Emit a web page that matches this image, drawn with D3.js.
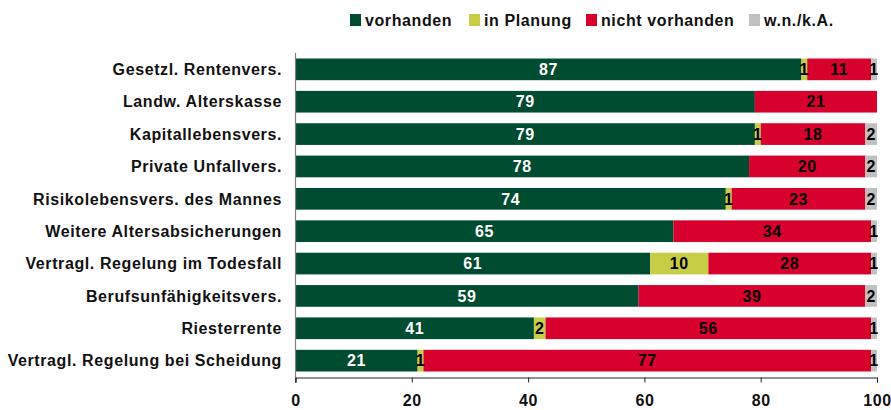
<!DOCTYPE html>
<html>
<head>
<meta charset="utf-8">
<script src="https://cdn.jsdelivr.net/npm/d3@7"></script>
<style>
  body { margin: 0; background: #fff; }
  svg text { font-family: "Liberation Sans", Arial, sans-serif; font-weight: bold; letter-spacing: 0.6px; }
</style>
</head>
<body>
<svg id="chart" width="891" height="410"></svg>
<script>
// categories top to bottom
const categories = [
  'Gesetzl. Rentenvers.', 'Landw. Alterskasse', 'Kapitallebensvers.',
  'Private Unfallvers.', 'Risikolebensvers. des Mannes', 'Weitere Altersabsicherungen',
  'Vertragl. Regelung im Todesfall', 'Berufsunfähigkeitsvers.', 'Riesterrente',
  'Vertragl. Regelung bei Scheidung'
];
const seriesNames = ['vorhanden', 'in Planung', 'nicht vorhanden', 'w.n./k.A.'];
const seriesColors = ['#004C30', '#C8CD46', '#D8002C', '#C0C0C0'];
const labelColors = ['#fff', '#000', '#000', '#000'];

const vorhanden      = [87, 79, 79, 78, 74, 65, 61, 59, 41, 21];
const inPlanung      = [1, 0, 1, 0, 1, 0, 10, 0, 2, 1];
const nichtVorhanden = [11, 21, 18, 20, 23, 34, 28, 39, 56, 77];
const wnka           = [1, 0, 2, 2, 2, 1, 1, 2, 1, 1];
const xTicks = [0, 20, 40, 60, 80, 100];

const series = [vorhanden, inPlanung, nichtVorhanden, wnka];
const rows = categories.map((c, i) => {
  const r = { cat: c };
  seriesNames.forEach((s, k) => r[s] = series[k][i]);
  return r;
});

const svg = d3.select('#chart');
const x = d3.scaleLinear().domain([0, 100]).range([295.5, 877]);
const y = d3.scaleBand().domain(categories).range([53, 377])
  .paddingInner(0.33).paddingOuter(0.17);

const stacked = d3.stack().keys(seriesNames)(rows);

const layers = svg.append('g').selectAll('g').data(stacked).join('g')
  .attr('fill', (d, i) => seriesColors[i]);

layers.selectAll('rect').data(d => d.filter(s => s[1] - s[0] > 0)).join('rect')
  .attr('x', d => x(d[0]))
  .attr('width', d => x(d[1]) - x(d[0]))
  .attr('y', d => y(d.data.cat))
  .attr('height', y.bandwidth());

// value labels
stacked.forEach((layer, k) => {
  svg.append('g').selectAll('text')
    .data(layer.filter(s => s[1] - s[0] > 0)).join('text')
    .attr('x', d => (x(d[0]) + x(d[1])) / 2)
    .attr('y', d => y(d.data.cat) + y.bandwidth() / 2)
    .attr('dy', '0.36em')
    .attr('text-anchor', 'middle')
    .attr('fill', labelColors[k])
    .style('font-size', '16px')
    .text(d => d[1] - d[0]);
});

// category labels
svg.append('g').selectAll('text').data(categories).join('text')
  .attr('x', 282)
  .attr('y', d => y(d) + y.bandwidth() / 2)
  .attr('dy', '0.36em')
  .attr('text-anchor', 'end')
  .attr('fill', '#111')
  .style('font-size', '16px')
  .text(d => d);

// y axis line
svg.append('line')
  .attr('x1', x(0)).attr('x2', x(0)).attr('y1', 53).attr('y2', 383)
  .attr('stroke', '#808080').attr('stroke-width', 1.2);

// x axis
const xAxis = svg.append('g').attr('transform', 'translate(0,377.5)')
  .call(d3.axisBottom(x).tickValues(xTicks).tickSize(5).tickPadding(12));
xAxis.select('.domain').attr('stroke', '#222');
xAxis.selectAll('.tick line').attr('stroke', '#222');
xAxis.selectAll('.tick text')
  .style('font-size', '16px')
  .style('font-family', '"Liberation Sans", Arial, sans-serif')
  .style('font-weight', 'bold')
  .attr('fill', '#111');

// legend
const legendX = [350, 469, 586, 749];
const legend = svg.append('g').selectAll('g').data(seriesNames).join('g')
  .attr('transform', (d, i) => `translate(${legendX[i]},14)`);
legend.append('rect').attr('width', 11).attr('height', 12)
  .attr('fill', (d, i) => seriesColors[i]);
legend.append('text').attr('x', 15).attr('y', 6).attr('dy', '0.36em')
  .attr('fill', '#111').style('font-size', '16px')
  .text(d => d);
</script>
</body>
</html>
